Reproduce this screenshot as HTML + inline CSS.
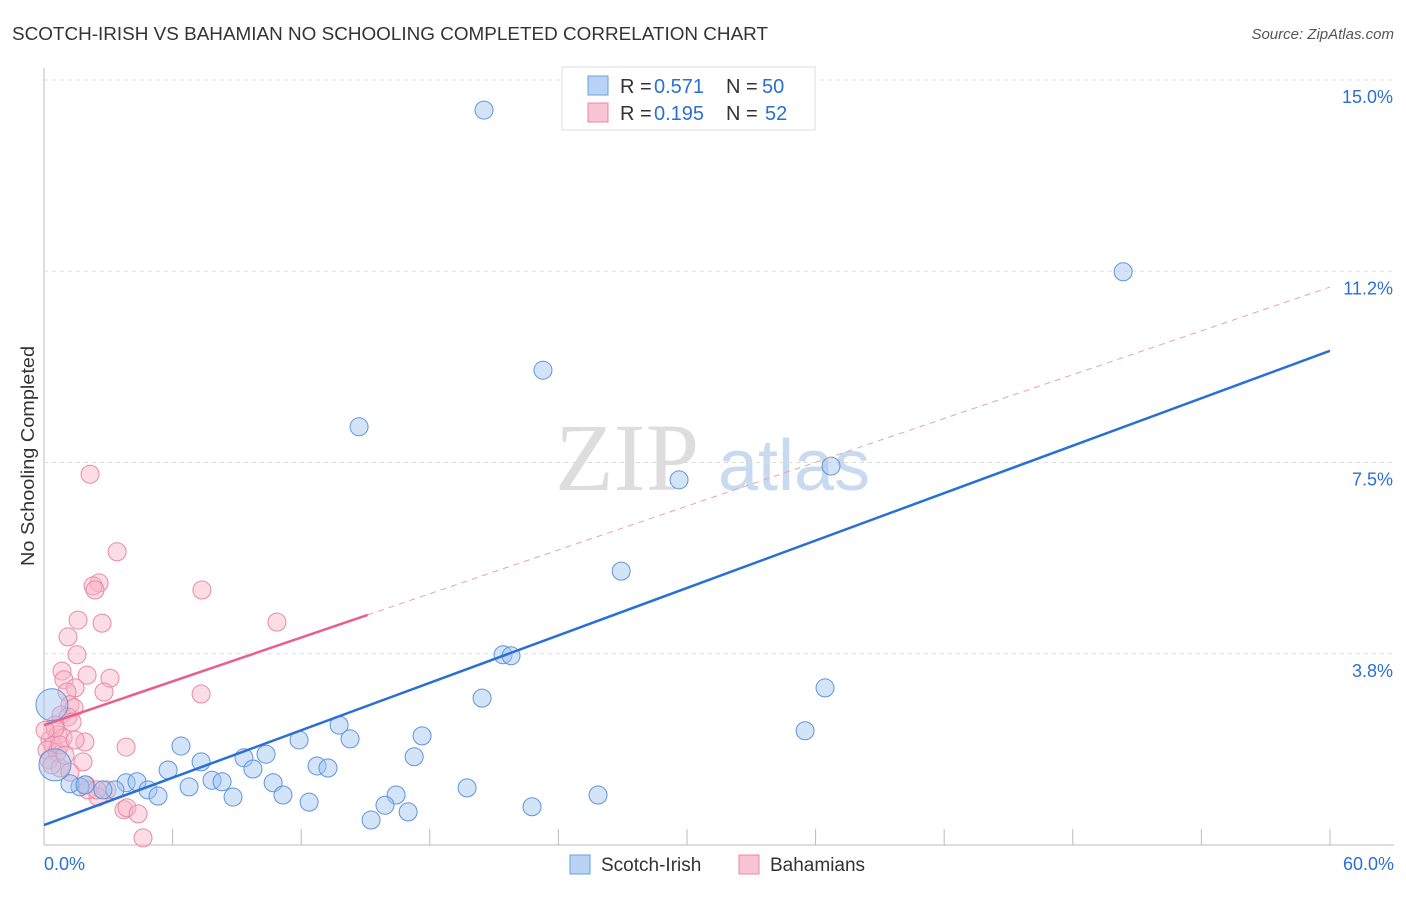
<!DOCTYPE html>
<html><head><meta charset="utf-8"><style>
body{margin:0;background:#fff;font-family:"Liberation Sans",sans-serif;}
</style></head><body>
<svg width="1406" height="892" xmlns="http://www.w3.org/2000/svg" id="svg">
<text x="12" y="40" font-size="18" fill="#333" textLength="756" lengthAdjust="spacingAndGlyphs">SCOTCH-IRISH VS BAHAMIAN NO SCHOOLING COMPLETED CORRELATION CHART</text>
<text x="1394" y="39" font-size="15" fill="#555" font-style="italic" text-anchor="end">Source: ZipAtlas.com</text>
<text x="0" y="0" transform="translate(34,456) rotate(-90)" font-size="18" fill="#333" text-anchor="middle" textLength="220" lengthAdjust="spacingAndGlyphs">No Schooling Completed</text>
<g><text x="555" y="490" font-size="96" fill="#ddd" font-family="Liberation Serif,serif">ZIP</text><text x="718" y="490" font-size="72" fill="#c8daf0">atlas</text></g>
<g id="grid"></g><g id="pts"></g><g id="lines"></g>
<g>
<rect x="562" y="67" width="253" height="63" fill="#fff" stroke="#ddd"/>
<rect x="588" y="76" width="20" height="19" fill="#b9d3f5" stroke="#6a9fe0"/>
<rect x="588" y="103" width="20" height="19" fill="#f9c4d4" stroke="#e88aa5"/>
<text x="620" y="93" font-size="20" fill="#333">R =</text><text x="654" y="93" font-size="20" fill="#2a6fd6">0.571</text>
<text x="726" y="93" font-size="20" fill="#333">N =</text><text x="762" y="93" font-size="20" fill="#2a6fd6">50</text>
<text x="620" y="120" font-size="20" fill="#333">R =</text><text x="654" y="120" font-size="20" fill="#2a6fd6">0.195</text>
<text x="726" y="120" font-size="20" fill="#333">N =</text><text x="765" y="120" font-size="20" fill="#2a6fd6">52</text>
</g>
<g>
<rect x="570" y="855" width="20" height="19" fill="#b9d3f5" stroke="#6a9fe0"/>
<text x="601" y="871" font-size="19" fill="#333">Scotch-Irish</text>
<rect x="739" y="855" width="20" height="19" fill="#f9c4d4" stroke="#e88aa5"/>
<text x="770" y="871" font-size="19" fill="#333">Bahamians</text>
</g>
</svg>
<script>
const yTicks=[3.75,7.5,11.25,15];
const yTickLabels=["3.8%","7.5%","11.2%","15.0%"];
const xLabels=["0.0%","60.0%"];
const blueX=[20.53,50.35,23.28,14.70,36.72,29.63,26.93,21.42,21.79,36.44,20.44,35.51,6.39,13.77,14.28,11.90,17.64,10.36,9.33,7.33,17.27,5.79,9.75,12.74,13.25,3.83,4.34,7.84,8.31,10.69,6.77,4.85,5.32,11.15,8.82,12.37,16.43,15.91,16.99,15.26,19.74,22.77,25.85,3.31,2.75,1.68,1.21,0.51,0.37,1.91];
const blueY=[14.41,11.24,9.31,8.20,7.43,7.16,5.37,3.73,3.71,3.08,2.88,2.24,1.94,2.35,2.08,2.06,2.14,1.78,1.71,1.63,1.73,1.47,1.49,1.55,1.51,1.22,1.24,1.27,1.24,1.22,1.14,1.08,0.96,0.98,0.94,0.84,0.98,0.78,0.65,0.49,1.12,0.75,0.98,1.08,1.08,1.14,1.20,1.57,2.75,1.18];
const pinkX=[2.15,3.41,2.57,2.29,2.38,7.37,1.59,2.71,1.12,1.54,10.87,0.84,0.93,3.08,2.01,1.45,2.80,7.33,1.07,1.21,1.40,0.79,1.12,1.31,0.51,1.91,3.83,0.28,0.65,0.42,0.14,0.61,0.89,0.23,1.82,0.75,1.96,2.94,2.52,3.73,3.87,4.39,4.62,0.51,0.75,0.05,0.37,0.98,2.05,1.21,2.47,1.45];
const pinkY=[7.27,5.75,5.14,5.08,5.00,5.00,4.41,4.35,4.08,3.73,4.37,3.41,3.24,3.27,3.33,3.08,3.00,2.96,3.00,2.75,2.69,2.55,2.51,2.41,2.35,2.02,1.92,2.06,2.16,1.96,1.86,1.82,2.10,1.67,1.63,1.51,1.18,1.08,0.94,0.69,0.73,0.61,0.14,2.29,1.96,2.25,1.57,1.76,1.08,1.43,1.08,2.06];
const blueFit=[0.39,9.69];
const pinkFit=[2.35,10.94];
const pinkSolidEnd=15.1;
const X=v=>44+v*21.433, Y=v=>845-v*51.0;
const NS="http://www.w3.org/2000/svg";
function mk(t,a,p){const e=document.createElementNS(NS,t);for(const k in a)e.setAttribute(k,a[k]);p.appendChild(e);return e;}
const grid=document.getElementById('grid');
mk('line',{x1:44,y1:68,x2:44,y2:845,stroke:'#bbb'},grid);
mk('line',{x1:44,y1:845,x2:1394,y2:845,stroke:'#bbb'},grid);
for(let i=1;i<=10;i++){mk('line',{x1:X(i*6),y1:829,x2:X(i*6),y2:845,stroke:'#bbb'},grid);}
yTicks.forEach((t,i)=>{
 mk('line',{x1:44,y1:Y(t),x2:1394,y2:Y(t),stroke:'#ddd','stroke-dasharray':'4,4'},grid);
 const tx=mk('text',{x:1393,y:Y(t)+23,'font-size':18,fill:'#2a6fd6','text-anchor':'end'},grid);
 
 
 tx.textContent=yTickLabels[i];
});
const xl0=mk('text',{x:44,y:870,'font-size':18,fill:'#2a6fd6'},grid);xl0.textContent=xLabels[0];


const xl1=mk('text',{x:1394,y:870,'font-size':18,fill:'#2a6fd6','text-anchor':'end'},grid);xl1.textContent=xLabels[1];


const pts=document.getElementById('pts');
pinkX.forEach((x,i)=>{const c=mk('circle',{cx:X(x),cy:Y(pinkY[i]),r:9,fill:'rgba(248,180,200,0.45)',stroke:'#e88aa5','stroke-width':1},pts);
 
 });
blueX.forEach((x,i)=>{const big=(i>=47&&i<=48);const c=mk('circle',{cx:X(x),cy:Y(blueY[i]),r:big?16:9,fill:'rgba(160,196,240,0.45)',stroke:'#5e95dc','stroke-width':1},pts);
 
 });
const lines=document.getElementById('lines');
const pf=v=>pinkFit[0]+(pinkFit[1]-pinkFit[0])*v/60;
const l1=mk('line',{x1:X(0),y1:Y(blueFit[0]),x2:X(60),y2:Y(blueFit[1]),stroke:'#2a6fd6','stroke-width':2.5},lines);


const l2=mk('line',{x1:X(0),y1:Y(pf(0)),x2:X(pinkSolidEnd),y2:Y(pf(pinkSolidEnd)),stroke:'#e8608a','stroke-width':2.5},lines);


const l3=mk('line',{x1:X(pinkSolidEnd),y1:Y(pf(pinkSolidEnd)),x2:X(60),y2:Y(pf(60)),stroke:'#e8a0b5','stroke-width':1,'stroke-dasharray':'6,5'},lines);


</script>
</body></html>
